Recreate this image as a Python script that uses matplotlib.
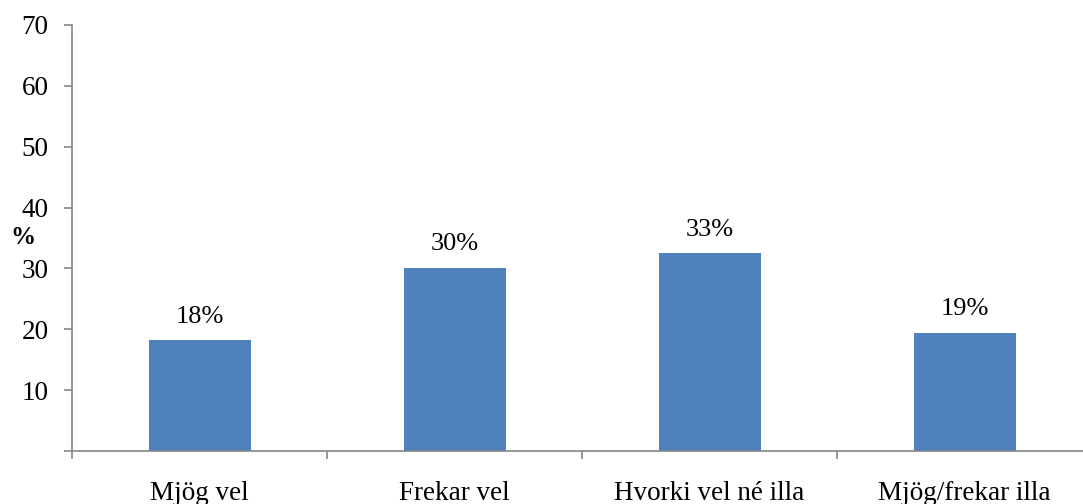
import matplotlib
matplotlib.use("Agg")
import matplotlib.pyplot as plt

categories = ["Mjög vel", "Frekar vel", "Hvorki vel né illa", "Mjög/frekar illa"]
values = [18.2, 30.1, 32.5, 19.4]
labels = ["18%", "30%", "33%", "19%"]
yticks = [10, 20, 30, 40, 50, 60, 70]

plt.rcParams['font.family'] = ['Liberation Serif', 'DejaVu Serif']

W, H = 1083, 504
fig = plt.figure(figsize=(W / 100, H / 100), dpi=100)
ax = fig.add_axes([72 / W, (H - 451) / H, 1020 / W, 426 / H])

x = list(range(len(categories)))
ax.bar(x, values, width=0.4, color="#4F81BD", zorder=2)
for xi, v, lab in zip(x, values, labels):
    ax.annotate(lab, (xi, v), xytext=(0, 9), textcoords="offset points",
                ha="center", va="bottom", fontsize=19)

ax.set_xlim(-0.5, len(categories) - 0.5)
ax.set_ylim(0, 70)
ax.set_yticks([0] + yticks)
ax.set_yticklabels([""] + [str(t) for t in yticks], fontsize=19.5)
ax.set_xticks(x)
ax.set_xticklabels(categories, fontsize=19.5)
for t in ax.get_xticklabels():
    t.set_verticalalignment("baseline")
ax.tick_params(axis="x", length=0, pad=35)
ax.set_xticks([i - 0.5 for i in range(len(categories) + 1)], minor=True)
ax.tick_params(axis="x", which="minor", length=5.8, color="#868686", width=1.2)
ax.tick_params(axis="y", length=5.8, color="#868686", width=1.2, pad=11)

for s in ["top", "right"]:
    ax.spines[s].set_visible(False)
for s in ["left", "bottom"]:
    ax.spines[s].set_color("#868686")
    ax.spines[s].set_linewidth(1.2)

fig.text(23 / W, 1 - 238 / H, "%", fontsize=18, fontweight="bold", ha="center", va="center")

fig.savefig("out.png", dpi=100)
